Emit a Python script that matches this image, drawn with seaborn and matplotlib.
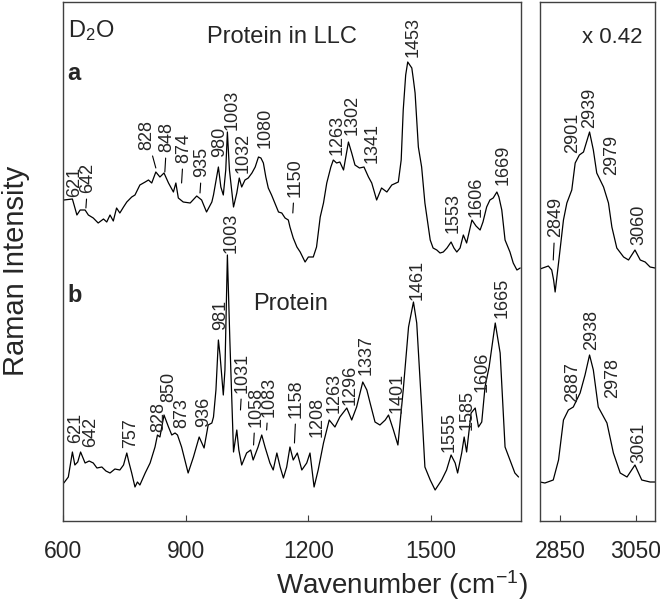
import matplotlib
matplotlib.use("Agg")
import matplotlib.pyplot as plt
import matplotlib.transforms as mtransforms
import seaborn as sns

# ---- spectrum a: protein in LLC (D2O), fingerprint region ----
wn_a = [602, 623, 634, 642, 654, 662, 674, 686, 699, 707,
        715, 723, 731, 739, 748, 756, 768, 776, 788, 801,
        809, 817, 827, 837, 847, 858, 870, 876, 882, 894,
        911, 927, 939, 951, 964, 968, 980, 986, 992, 998,
        1002, 1007, 1017, 1025, 1031, 1037, 1045, 1053, 1062, 1070,
        1078, 1084, 1090, 1096, 1102, 1110, 1118, 1127, 1135, 1143,
        1151, 1155, 1163, 1172, 1180, 1192, 1200, 1212, 1220, 1229,
        1237, 1245, 1255, 1261, 1269, 1277, 1286, 1298, 1306, 1314,
        1325, 1336, 1347, 1355, 1367, 1379, 1392, 1404, 1420, 1427,
        1432, 1438, 1443, 1453, 1457, 1461, 1469, 1477, 1485, 1498,
        1505, 1514, 1522, 1530, 1539, 1549, 1556, 1563, 1571, 1579,
        1587, 1600, 1610, 1620, 1627, 1636, 1644, 1652, 1661, 1666,
        1673, 1681, 1693, 1701, 1710, 1718]
int_a = [321, 322, 306, 311, 311, 306, 303, 298, 302, 299,
         306, 300, 313, 308, 314, 319, 324, 326, 336, 339,
         341, 338, 349, 344, 348, 338, 329, 338, 323, 319,
         318, 325, 321, 309, 319, 326, 354, 334, 326, 351,
         389, 351, 314, 328, 343, 334, 341, 343, 348, 354,
         364, 363, 358, 344, 333, 326, 318, 309, 308, 303,
         301, 294, 283, 274, 269, 259, 264, 264, 274, 304,
         318, 338, 354, 361, 358, 359, 351, 379, 368, 356,
         353, 354, 344, 338, 321, 333, 329, 336, 339, 361,
         411, 446, 459, 453, 441, 428, 374, 354, 318, 281,
         273, 271, 268, 269, 273, 279, 273, 269, 273, 286,
         278, 301, 295, 291, 299, 314, 321, 323, 329, 324,
         311, 281, 269, 258, 251, 253]

# ---- spectrum b: protein (D2O), fingerprint region ----
wn_b = [602, 613, 623, 629, 636, 643, 654, 664, 674, 683,
        695, 705, 715, 727, 739, 748, 756, 761, 768, 776,
        782, 788, 801, 813, 825, 831, 837, 847, 858, 866,
        874, 880, 890, 898, 906, 919, 933, 945, 955, 964,
        968, 974, 980, 984, 992, 996, 1002, 1008, 1017, 1025,
        1030, 1037, 1049, 1059, 1065, 1077, 1086, 1094, 1106, 1114,
        1123, 1131, 1139, 1147, 1155, 1163, 1173, 1184, 1196, 1204,
        1214, 1224, 1237, 1251, 1265, 1277, 1294, 1306, 1318, 1333,
        1343, 1351, 1363, 1375, 1388, 1396, 1408, 1419, 1432, 1445,
        1457, 1465, 1477, 1485, 1498, 1510, 1526, 1538, 1549, 1559,
        1565, 1575, 1581, 1587, 1598, 1608, 1616, 1624, 1632, 1642,
        1657, 1669, 1681, 1693, 1705, 1714]
int_b = [38, 44, 69, 56, 59, 69, 58, 60, 58, 53,
         54, 50, 48, 52, 51, 56, 68, 59, 48, 34,
         39, 36, 48, 58, 74, 86, 84, 106, 94, 86,
         88, 86, 74, 61, 48, 64, 84, 73, 96, 98,
         104, 131, 181, 166, 126, 151, 266, 181, 69, 91,
         71, 56, 68, 71, 61, 74, 86, 74, 58, 51,
         68, 54, 43, 54, 74, 61, 68, 51, 58, 68,
         34, 51, 78, 101, 94, 104, 113, 101, 114, 139,
         131, 118, 99, 96, 101, 106, 91, 76, 131, 194,
         219, 198, 114, 54, 41, 31, 41, 51, 66, 58,
         48, 68, 84, 69, 108, 113, 94, 99, 134, 154,
         198, 168, 74, 61, 48, 44]

# ---- C-H stretching region (x 0.42) ----
wn_ch_a = [2797, 2819, 2828, 2833, 2837, 2846, 2859, 2868, 2881, 2890,
           2901, 2912, 2928, 2938, 2947, 2965, 2978, 2987, 3000, 3018,
           3031, 3048, 3062, 3075, 3088, 3101]
int_ch_a = [252, 255, 251, 241, 229, 258, 301, 318, 331, 358,
            366, 369, 389, 371, 348, 334, 318, 294, 273, 264,
            261, 271, 261, 259, 254, 253]
wn_ch_b = [2797, 2810, 2832, 2846, 2859, 2872, 2885, 2903, 2916, 2928,
           2938, 2951, 2974, 2991, 3009, 3027, 3048, 3066, 3088, 3101]
int_ch_b = [39, 38, 41, 61, 101, 111, 114, 128, 146, 166,
            151, 114, 98, 68, 48, 44, 56, 41, 39, 39]

# ---- peak labels ----
lab_a = ["621", "642", "828", "848", "874", "935", "980", "1003", "1032",
         "1080", "1150", "1263", "1302", "1341", "1453", "1553", "1606", "1669"]
lab_a_x = [624, 656, 800, 849, 890, 935, 978, 1008, 1036,
           1089, 1162, 1266, 1302, 1350, 1452, 1548, 1606, 1670]
lab_a_y = [324, 328, 371, 369, 358, 344, 364, 391, 348,
           373, 324, 366, 386, 358, 464, 288, 304, 336]
lead_a = {"642": (656, 313), "828": (827, 353), "848": (849, 349),
          "874": (890, 338), "935": (935, 328), "1150": (1162, 308)}

lab_b = ["621", "642", "757", "828", "850", "873", "936", "981", "1003",
         "1031", "1058", "1083", "1158", "1208", "1263", "1296", "1337",
         "1401", "1461", "1555", "1585", "1606", "1665"]
lab_b_x = [626, 662, 760, 829, 853, 886, 939, 980, 1005,
           1034, 1066, 1098, 1166, 1216, 1257, 1298, 1337,
           1411, 1462, 1540, 1584, 1619, 1669]
lab_b_y = [78, 74, 73, 89, 119, 93, 94, 191, 268,
           128, 94, 104, 103, 84, 108, 116, 146,
           108, 221, 69, 91, 129, 203]
lead_b = {"1031": (1034, 111), "1058": (1066, 76),
          "1083": (1098, 91), "1158": (1166, 78)}

lab_ch_a = ["2849", "2901", "2939", "2979", "3060"]
lab_ch_a_x = [2832, 2877, 2923, 2981, 3052]
lab_ch_a_y = [284, 368, 393, 346, 276]
lead_ch_a = {"2849": (2832, 261)}

lab_ch_b = ["2887", "2938", "2978", "3061"]
lab_ch_b_x = [2878, 2928, 2984, 3052]
lab_ch_b_y = [119, 171, 123, 58]

sns.set_style("ticks")
plt.rcParams["font.family"] = ["Liberation Sans", "DejaVu Sans"]
plt.rcParams["mathtext.fontset"] = "custom"
plt.rcParams["mathtext.rm"] = "Liberation Sans"
plt.rcParams["mathtext.it"] = "Liberation Sans:italic"
plt.rcParams["mathtext.bf"] = "Liberation Sans:bold"

fig = plt.figure(figsize=(6.6, 6.06), dpi=100)
ax1 = fig.add_axes([63 / 660, 85 / 606, 458 / 660, 519 / 606])
ax2 = fig.add_axes([540 / 660, 85 / 606, 115 / 660, 519 / 606])


def spectrum(ax, wn, inten):
    sns.lineplot(x=wn, y=inten, ax=ax, color="black", lw=0.9,
                 estimator=None, sort=False)


def peak_labels(ax, texts, xs, ys, leaders={}):
    # rotated digits sit a bit left of their box centre, nudge them right
    tr = mtransforms.offset_copy(ax.transData, fig=fig, x=1.5, y=0, units="points")
    for t, x, y in zip(texts, xs, ys):
        if t in leaders:
            ax.annotate(t, xy=leaders[t], xytext=(x, y), textcoords=tr,
                        rotation=90, ha="center", va="bottom", fontsize=13,
                        arrowprops=dict(arrowstyle="-", color="black", lw=0.8,
                                        shrinkA=2, shrinkB=0))
        else:
            ax.text(x, y, t, transform=tr, rotation=90, ha="center",
                    va="bottom", fontsize=13)


spectrum(ax1, wn_a, int_a)
spectrum(ax1, wn_b, int_b)
spectrum(ax2, wn_ch_a, int_ch_a)
spectrum(ax2, wn_ch_b, int_ch_b)

peak_labels(ax1, lab_a, lab_a_x, lab_a_y, lead_a)
peak_labels(ax1, lab_b, lab_b_x, lab_b_y, lead_b)
peak_labels(ax2, lab_ch_a, lab_ch_a_x, lab_ch_a_y, lead_ch_a)
peak_labels(ax2, lab_ch_b, lab_ch_b_x, lab_ch_b_y)

ax1.text(0.011, 0.969, "D$_\\mathregular{2}$O", transform=ax1.transAxes,
         ha="left", va="top", fontsize=17)
ax1.text(0.478, 0.933, "Protein in LLC", transform=ax1.transAxes,
         ha="center", va="center", fontsize=17)
ax1.text(0.009, 0.863, "a", transform=ax1.transAxes, ha="left", va="center",
         fontsize=17, fontweight="bold")
ax1.text(0.009, 0.435, "b", transform=ax1.transAxes, ha="left", va="center",
         fontsize=17, fontweight="bold")
ax1.text(0.496, 0.418, "Protein", transform=ax1.transAxes,
         ha="center", va="center", fontsize=17)
ax2.text(0.626, 0.931, "x 0.42", transform=ax2.transAxes,
         ha="center", va="center", fontsize=16)

for ax in (ax1, ax2):
    ax.set_ylim(0, 519)
    ax.set_yticks([])
    ax.set_xlabel("")
    ax.set_ylabel("")
    ax.tick_params(axis="x", direction="in", length=4, labelsize=16.5,
                   pad=14, color="#404040")
    for s in ax.spines.values():
        s.set_color("#404040")
        s.set_linewidth(1)

ax1.set_xlim(600, 1720)
ax1.set_xticks([600, 900, 1200, 1500])
ax2.set_xlim(2797, 3101)
ax2.set_xticks([2850, 3050])

fig.text(402 / 660, 0.035, "Wavenumber (cm$^{\\mathregular{-1}}$)",
         ha="center", va="center", fontsize=20)
fig.text(16 / 660, 0.553, "Raman Intensity", rotation=90,
         ha="center", va="center", fontsize=21)

fig.savefig("out.png", dpi=100)
